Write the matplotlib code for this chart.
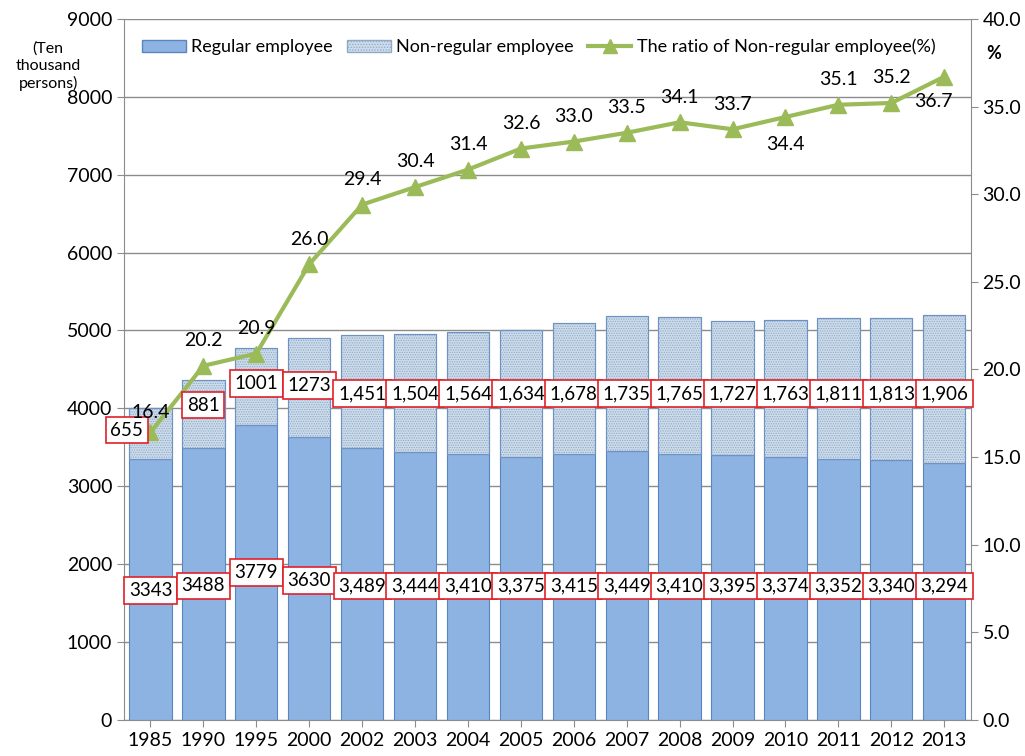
import numpy as np
import matplotlib.pyplot as plt
from matplotlib.lines import Line2D
from matplotlib.patches import Patch

plt.rcParams['font.family'] = ['Lato', 'DejaVu Sans']
plt.rcParams['hatch.linewidth'] = 0.6

years = ['1985', '1990', '1995', '2000', '2002', '2003', '2004', '2005',
         '2006', '2007', '2008', '2009', '2010', '2011', '2012', '2013']
regular = [3343, 3488, 3779, 3630, 3489, 3444, 3410, 3375,
           3415, 3449, 3410, 3395, 3374, 3352, 3340, 3294]
non_regular = [655, 881, 1001, 1273, 1451, 1504, 1564, 1634,
               1678, 1735, 1765, 1727, 1763, 1811, 1813, 1906]
ratio = [16.4, 20.2, 20.9, 26.0, 29.4, 30.4, 31.4, 32.6,
         33.0, 33.5, 34.1, 33.7, 34.4, 35.1, 35.2, 36.7]
reg_text = ['3343', '3488', '3779', '3630', '3,489', '3,444', '3,410', '3,375',
            '3,415', '3,449', '3,410', '3,395', '3,374', '3,352', '3,340', '3,294']
non_text = ['655', '881', '1001', '1273', '1,451', '1,504', '1,564', '1,634',
            '1,678', '1,735', '1,765', '1,727', '1,763', '1,811', '1,813', '1,906']

x = np.arange(len(years))
fig = plt.figure(figsize=(10.25, 7.56), dpi=100)
ax = fig.add_axes([0.121, 0.048, 0.826, 0.927])
ax2 = ax.twinx()
ax.set_zorder(ax2.get_zorder() + 1)
ax.patch.set_visible(False)

w = 0.8
ax.bar(x, regular, w, color='#8db3e2', edgecolor='#5a86bf', linewidth=0.8, zorder=2)
ax.bar(x, non_regular, w, bottom=regular, color='#cddcea', edgecolor='#8fa9c8',
       hatch='.......', linewidth=0.8, zorder=2)
ax.bar(x, non_regular, w, bottom=regular, color='none', edgecolor='#6d93c4',
       linewidth=0.8, zorder=2)

ax.set_ylim(0, 9000)
ax.set_yticks(range(0, 9001, 1000))
ax.set_xlim(-0.5, len(years) - 0.5)
ax.set_xticks(x)
ax.set_xticklabels(years)
ax.yaxis.grid(True, color='#8c8c8c', linewidth=1.0, zorder=0)
ax.set_axisbelow(True)
for s in ['top', 'right']:
    ax.spines[s].set_visible(False)
ax.spines['left'].set_color('#8c8c8c')
ax.spines['bottom'].set_color('#8c8c8c')
ax.tick_params(axis='both', labelsize=14, colors='#8c8c8c', labelcolor='black', length=5)

# label boxes
box = dict(boxstyle='square,pad=0.25', fc='white', ec='#e0202a', lw=1.2)
non_y = [3720, 4040, 4320, 4290] + [4190] * 12
reg_y = [1660, 1720, 1890, 1790] + [1720] * 12
for i in range(len(years)):
    xi = i - 0.45 if i == 0 else i
    ax.text(xi, non_y[i], non_text[i], ha='center', va='center', fontsize=13.5,
            bbox=box, zorder=5)
    ax.text(i, reg_y[i], reg_text[i], ha='center', va='center', fontsize=13.5,
            bbox=box, zorder=5)

ax2.set_ylim(0, 40)
ax2.set_yticks(np.arange(0, 40.1, 5))
ax2.set_yticklabels([f'{v:.1f}' for v in np.arange(0, 40.1, 5)])
for s in ['top', 'left', 'bottom']:
    ax2.spines[s].set_visible(False)
ax2.spines['right'].set_color('#8c8c8c')
ax2.tick_params(axis='y', labelsize=14, colors='#8c8c8c', labelcolor='black', length=5)

# line drawn on the bar axes, scaled from percent to the left axis range
ratio_scaled = [r * 9000 / 40 for r in ratio]
ax.plot(x, ratio_scaled, color='#9bbb59', linewidth=3, marker='^', markersize=11,
        zorder=4)
for i, r in enumerate(ratio):
    if i == 12:
        off, va = (0, -14), 'top'
    elif i == 15:
        off, va = (-8, -12), 'top'
    elif i == 0:
        off, va = (0, 8), 'bottom'
    else:
        off, va = (0, 12), 'bottom'
    ax.annotate(f'{r:.1f}', (i, ratio_scaled[i]), xytext=off,
                textcoords='offset points', ha='center', va=va, fontsize=14, zorder=6)

fig.text(0.047, 0.945, '(Ten\nthousand\npersons)', ha='center', va='top', fontsize=11.5,
         linespacing=1.25)
fig.text(0.962, 0.94, '%', ha='left', va='top', fontsize=13, fontweight='bold')

handles = [Patch(facecolor='#8db3e2', edgecolor='#5a86bf'),
           Patch(facecolor='#cddcea', edgecolor='#8fa9c8', hatch='......'),
           Line2D([], [], color='#9bbb59', linewidth=3, marker='^', markersize=10)]
labels = ['Regular employee', 'Non-regular employee', 'The ratio of Non-regular employee(%)']
ax.legend(handles, labels, loc='upper center', bbox_to_anchor=(0.49, 0.995), ncol=3,
          frameon=False, fontsize=13, handlelength=2.4, handleheight=0.6,
          columnspacing=0.8, handletextpad=0.3)

fig.savefig('out.png', dpi=100)
